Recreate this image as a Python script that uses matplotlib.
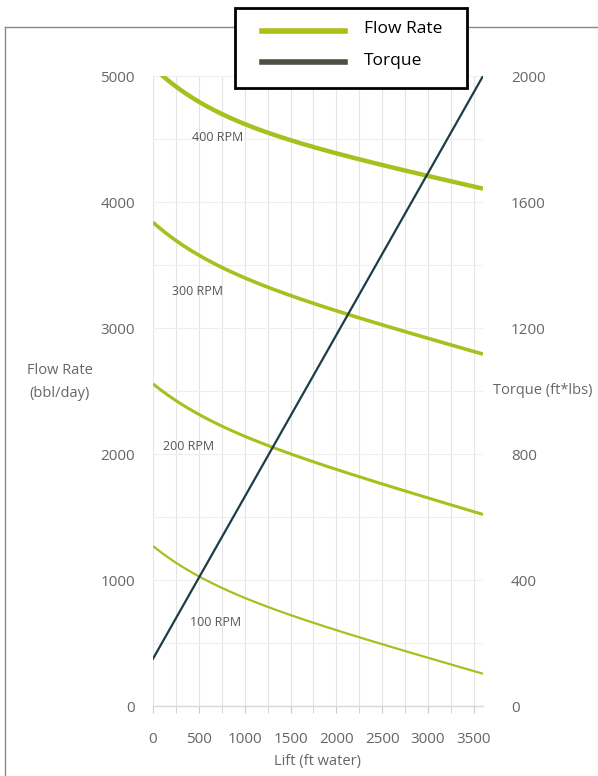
import numpy as np
import matplotlib.pyplot as plt
from matplotlib.lines import Line2D
from matplotlib.patches import Rectangle

# lift (ft water)
lift = [0, 500, 1000, 1500, 2000, 2500, 3000, 3600]

# flow rate (bbl/day) per speed
flow_400 = [5080, 4780, 4610, 4495, 4400, 4305, 4205, 4095]
flow_300 = [3835, 3580, 3410, 3260, 3130, 3015, 2905, 2810]
flow_200 = [2555, 2315, 2150, 2000, 1870, 1765, 1640, 1530]
flow_100 = [1278, 1008, 860, 730, 610, 495, 375, 254]
rpm_labels = ['400 RPM', '300 RPM', '200 RPM', '100 RPM']

# torque (ft*lbs)
torque_lift = [0, 3600]
torque = [150, 2000]

green = '#a9bf1e'
dark = '#1b3c48'
grey_txt = '#666666'

plt.rcParams['font.family'] = ['Open Sans', 'DejaVu Sans']

fig = plt.figure(figsize=(5.98, 7.76), dpi=100)

# outer frame
fig.add_artist(Line2D([5/598, 5/598], [0, 1 - 27/776], color='#888888', lw=1))
fig.add_artist(Line2D([5/598, 1], [1 - 27/776, 1 - 27/776], color='#888888', lw=1))

ax = fig.add_axes([153/598, 1 - 706/776, (483 - 153)/598, (706 - 76)/776])
ax2 = ax.twinx()

def smooth(xs, ys):
    # least squares on a + b*x + c*exp(-x/700) -> smooth convex decay
    xs = np.asarray(xs, float)
    A = np.column_stack([np.ones_like(xs), xs, np.exp(-xs / 700)])
    cs = np.linalg.lstsq(A, np.asarray(ys, float), rcond=None)[0]
    xx = np.linspace(xs[0], xs[-1], 200)
    return xx, cs[0] + cs[1] * xx + cs[2] * np.exp(-xx / 700)

series = [flow_400, flow_300, flow_200, flow_100]
widths = [3.2, 2.6, 2.2, 1.6]
for ys, w in zip(series, widths):
    xx, yy = smooth(lift, ys)
    ax.plot(xx, yy, color=green, lw=w, solid_capstyle='butt')

ax2.plot(torque_lift, torque, color=dark, lw=1.6)

ax.set_xlim(0, 3600)
ax.set_ylim(0, 5000)
ax2.set_ylim(0, 2000)
ax.set_xticks(range(0, 3501, 500))
ax.set_xticks(range(0, 3601, 250), minor=True)
ax.set_yticks(range(0, 5001, 1000))
ax.set_yticks(range(0, 5001, 500), minor=True)
ax2.set_yticks(range(0, 2001, 400))

ax.grid(True, which='both', axis='x', color='#e4e4e4', lw=0.8)
ax.grid(True, which='both', axis='y', color='#efefef', lw=0.8)
ax.set_axisbelow(True)
for a in (ax, ax2):
    for s in a.spines.values():
        s.set_visible(False)
ax.axhline(0, color='#d8d8d8', lw=1, clip_on=False)

ax.tick_params(axis='x', which='both', length=5, color='#cccccc', labelsize=11,
               labelcolor=grey_txt, pad=14)
ax.tick_params(axis='y', which='both', length=0, labelsize=11, labelcolor=grey_txt, pad=13)
ax2.tick_params(axis='y', length=0, labelsize=11, labelcolor=grey_txt, pad=20)

# RPM labels
label_pos = [(425, 4508), (207, 3290), (110, 2063), (400, 660)]
for (lx, ly), t in zip(label_pos, rpm_labels):
    ax.text(lx, ly, t, fontsize=9, color='#555555', va='center')

fig.text(60/598, 1 - 382/776, 'Flow Rate\n(bbl/day)', ha='center', va='center',
         fontsize=10.5, color=grey_txt, linespacing=1.7)
fig.text(543/598, 1 - 391/776, 'Torque (ft*lbs)', ha='center', va='center',
         fontsize=10.5, color=grey_txt)
fig.text(318/598, 1 - 762/776, 'Lift (ft water)', ha='center', va='center',
         fontsize=10.5, color=grey_txt)

# legend box
fig.add_artist(Rectangle((235/598, 1 - 88/776), 232/598, 80/776, transform=fig.transFigure,
                         facecolor='white', edgecolor='black', lw=2, zorder=10))
fig.add_artist(Line2D([262/598, 345/598], [1 - 31/776] * 2, color='#adbf16', lw=4, zorder=11))
fig.add_artist(Line2D([262/598, 345/598], [1 - 62/776] * 2, color='#4d4f42', lw=4, zorder=11))
fig.text(364/598, 1 - 29/776, 'Flow Rate', fontsize=12.5, va='center', zorder=12)
fig.text(364/598, 1 - 61/776, 'Torque', fontsize=12.5, va='center', zorder=12)

fig.savefig('out.png', dpi=100)
